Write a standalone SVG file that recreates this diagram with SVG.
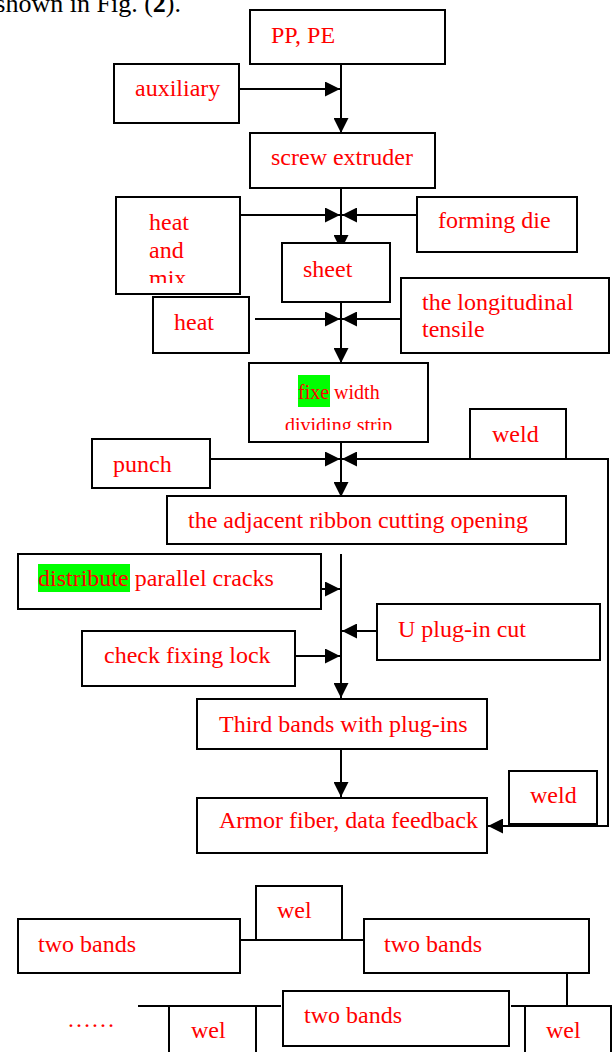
<svg xmlns="http://www.w3.org/2000/svg" width="612" height="1052" viewBox="0 0 612 1052">
<style>
.b{fill:#fff;stroke:#000;stroke-width:2}
.t{font-family:"Liberation Serif","Times New Roman",serif;font-size:24px;fill:#ff0000}
.s{font-size:20px}
.c{fill:none;stroke:#000;stroke-width:2}
.a{marker-end:url(#ah)}
</style>
<defs>
<marker id="ah" markerUnits="userSpaceOnUse" markerWidth="15" markerHeight="15" refX="15" refY="7.5" orient="auto">
<path d="M0,0 L15,7.5 L0,15 z" fill="#000"/>
</marker>
<clipPath id="clipMix"><rect x="116" y="197" width="124" height="86"/></clipPath>
<clipPath id="clipDiv"><rect x="249" y="363" width="179" height="67"/></clipPath>
</defs>
<text x="181" y="12" text-anchor="end" font-family="Liberation Serif, Times New Roman, serif" font-size="26" fill="#000">shown in Fig. (<tspan font-weight="bold">2</tspan>).</text>
<g id="connectors">
<path class="c a" d="M341,64 L341,133"/>
<path class="c a" d="M239,89 L340,89"/>
<path class="c a" d="M341,186 L341,250"/>
<path class="c a" d="M240,215 L340,215"/>
<path class="c a" d="M417,215 L342,215"/>
<path class="c a" d="M341,298 L341,363"/>
<path class="c a" d="M255,319 L340,319"/>
<path class="c a" d="M401,319 L342,319"/>
<path class="c a" d="M341,442 L341,497"/>
<path class="c a" d="M210,459 L340,459"/>
<path class="c a" d="M608,640 L608,459 L342,459"/>
<path class="c a" d="M608,640 L608,826 L488,826"/>
<path class="c a" d="M341,554 L341,698"/>
<path class="c a" d="M321,589 L340,589"/>
<path class="c a" d="M377,631 L342,631"/>
<path class="c a" d="M295,656 L340,656"/>
<path class="c a" d="M341,749 L341,797"/>
<path class="c" d="M240,940 L364,940"/>
<path class="c" d="M567,973 L567,1010"/>
<path class="c" d="M138,1006 L281,1006"/>
<path class="c" d="M511,1006 L611,1006"/>
</g>
<g id="pp"><rect class="b" x="250" y="10" width="195" height="54"/><text class="t" x="271" y="43">PP, PE</text></g>
<g id="auxiliary"><rect class="b" x="114" y="64" width="125" height="59"/><text class="t" x="135" y="96">auxiliary</text></g>
<g id="screw"><rect class="b" x="250" y="133" width="185" height="55"/><text class="t" x="271" y="165">screw extruder</text></g>
<g id="heatmix"><rect class="b" x="116" y="197" width="124" height="97"/><text class="t" x="149" y="230">heat</text><text class="t" x="149" y="258">and</text><text class="t" x="149" y="286" clip-path="url(#clipMix)">mix</text></g>
<g id="forming"><rect class="b" x="417" y="197" width="160" height="55"/><text class="t" x="438" y="228">forming die</text></g>
<g id="sheet"><rect class="b" x="282" y="243" width="108" height="59"/><text class="t" x="303" y="277">sheet</text></g>
<g id="heat"><rect class="b" x="153" y="297" width="96" height="56"/><text class="t" x="174" y="330">heat</text></g>
<g id="longitudinal"><rect class="b" x="401" y="278" width="208" height="75"/><text class="t" x="422" y="310">the longitudinal</text><text class="t" x="422" y="337">tensile</text></g>
<g id="fixe"><rect class="b" x="249" y="363" width="179" height="79"/><rect x="298" y="375" width="32" height="32" fill="#00ff00"/><text class="t s" x="298" y="399">fixe width</text><text class="t s" x="285" y="432" clip-path="url(#clipDiv)">dividing strip</text></g>
<g id="weld1"><rect class="b" x="470" y="409" width="96" height="50"/><text class="t" x="492" y="442">weld</text></g>
<g id="punch"><rect class="b" x="92" y="439" width="118" height="49"/><text class="t" x="113" y="472">punch</text></g>
<g id="ribbon"><rect class="b" x="167" y="496" width="399" height="48"/><text class="t" x="188" y="528">the adjacent ribbon cutting opening</text></g>
<g id="distribute"><rect class="b" x="18" y="554" width="303" height="55"/><rect x="38" y="564" width="92" height="28" fill="#00ff00"/><text class="t" x="38" y="586">distribute parallel cracks</text></g>
<g id="uplug"><rect class="b" x="377" y="604" width="223" height="56"/><text class="t" x="398" y="637">U plug-in cut</text></g>
<g id="check"><rect class="b" x="82" y="631" width="213" height="55"/><text class="t" x="104" y="663">check fixing lock</text></g>
<g id="third"><rect class="b" x="197" y="699" width="290" height="50"/><text class="t" x="219" y="732">Third bands with plug-ins</text></g>
<g id="armor"><rect class="b" x="197" y="798" width="290" height="55"/><text class="t" x="219" y="828">Armor fiber, data feedback</text></g>
<g id="weld2"><rect class="b" x="509" y="771" width="88" height="53"/><text class="t" x="530" y="803">weld</text></g>
<g id="welTop"><rect class="b" x="256" y="886" width="86" height="54"/><text class="t" x="277" y="918">wel</text></g>
<g id="twoL"><rect class="b" x="18" y="919" width="222" height="54"/><text class="t" x="38" y="952">two bands</text></g>
<g id="twoR"><rect class="b" x="364" y="919" width="225" height="54"/><text class="t" x="384" y="952">two bands</text></g>
<g id="welBL"><rect class="b" x="169" y="1006" width="87" height="60"/><text class="t" x="191" y="1038">wel</text></g>
<g id="twoM"><rect class="b" x="283" y="991" width="226" height="55"/><text class="t" x="304" y="1023">two bands</text></g>
<g id="welBR"><rect class="b" x="525" y="1006" width="86" height="60"/><text class="t" x="546" y="1038">wel</text></g>
<g id="ellipsis"><text class="t" x="67" y="1027">……</text></g>
</svg>
